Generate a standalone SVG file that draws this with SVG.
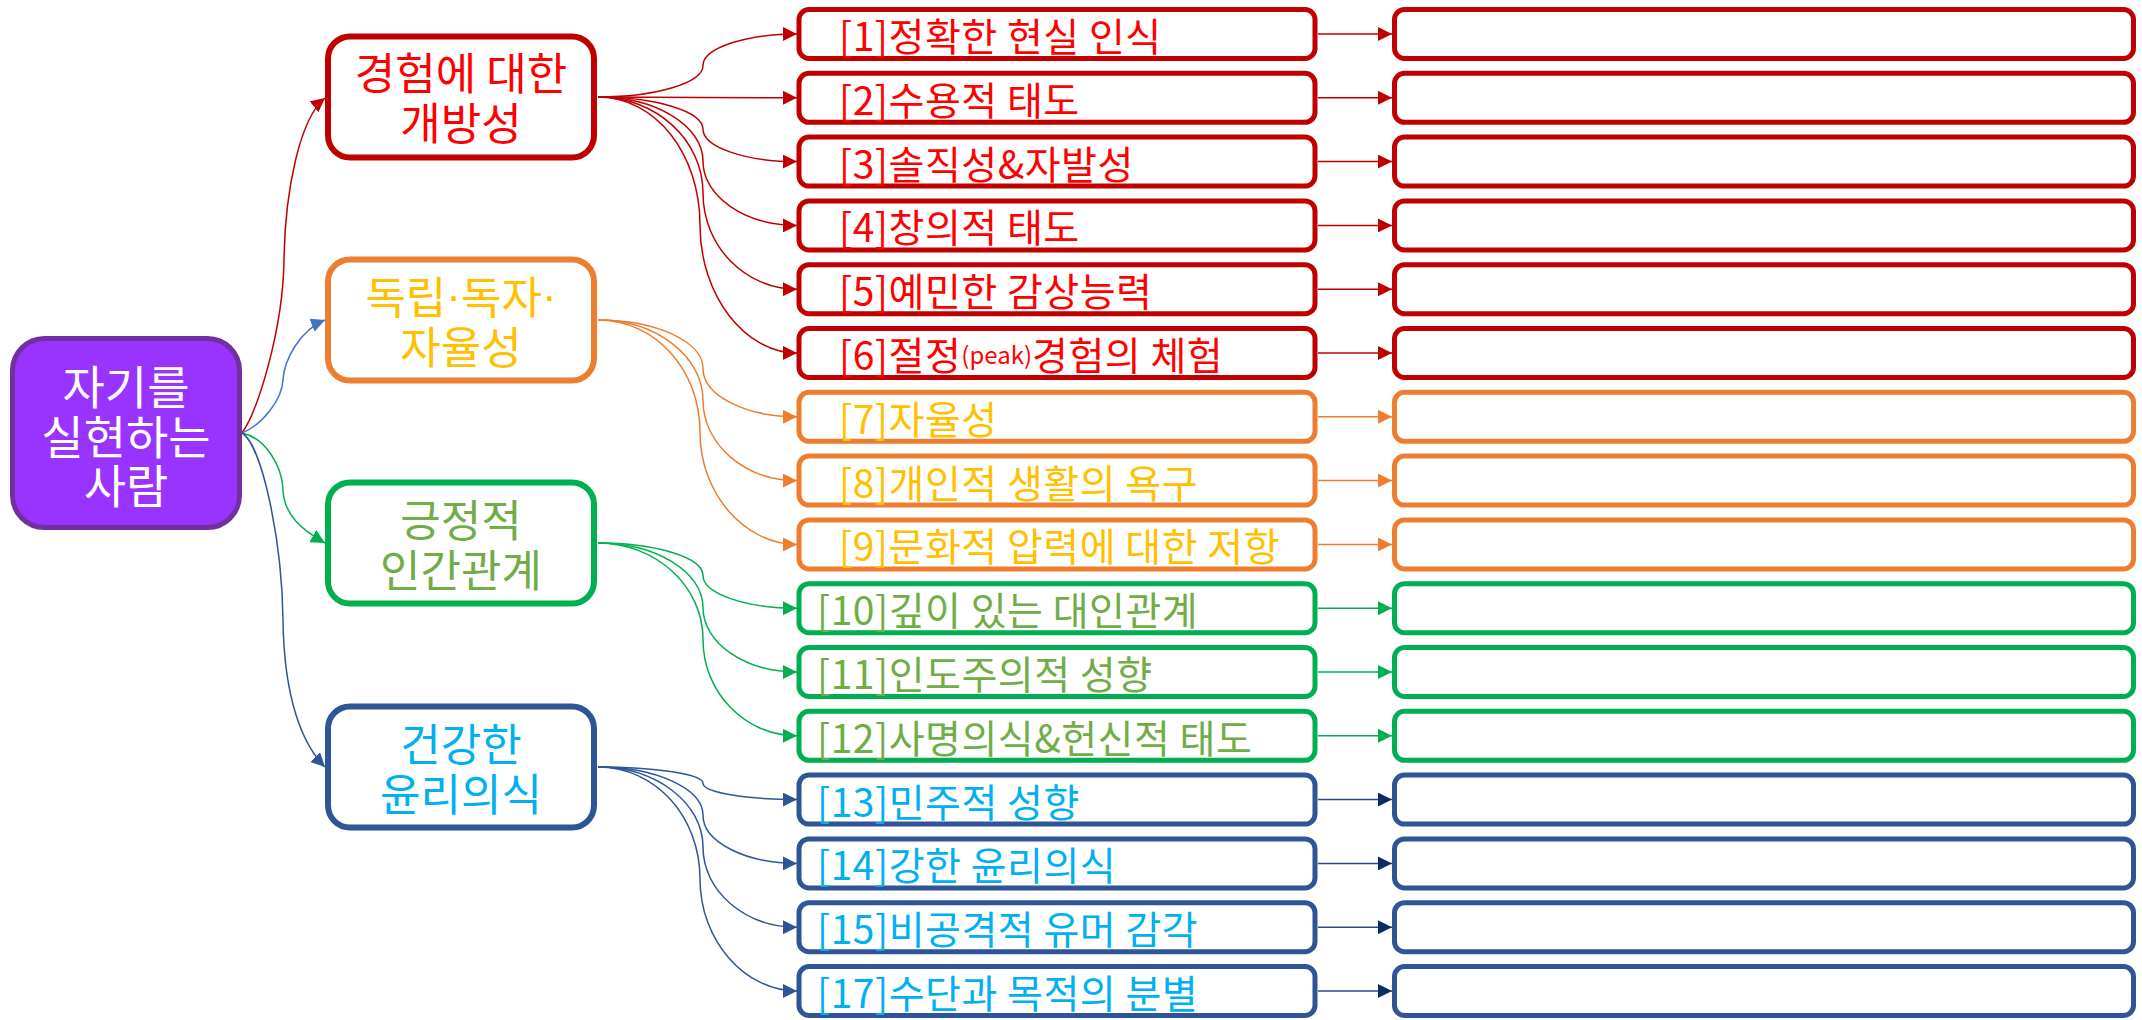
<svg xmlns="http://www.w3.org/2000/svg" width="2142" height="1020" viewBox="0 0 2142 1020">
<defs>
<style>
text { font-family: "Noto Sans CJK KR", "Noto Sans", sans-serif; }
.root rect { fill:#9933FF; stroke:#7030A0; stroke-width:5; }
.root text { fill:#FFFFFF; font-size:46px; text-anchor:middle; dominant-baseline:central; }
.l1 rect { fill:#FFFFFF; stroke-width:6; }
.l1 text { font-size:44px; text-anchor:middle; dominant-baseline:central; }
.dot { font-family: "Liberation Sans", sans-serif; }
.l2 rect, .l3 rect { fill:#FFFFFF; stroke-width:5; }
.l2 text { font-size:39px; letter-spacing:0.5px; dominant-baseline:central; }
.sm { font-size:24px; letter-spacing:0; }
.red rect { stroke:#C00000; } .red text { fill:#FF0000; }
.org rect { stroke:#ED7D31; } .org text { fill:#FFC000; }
.grn rect { stroke:#00B050; } .grn text { fill:#70AD47; }
.blu rect { stroke:#2F5597; } .blu text { fill:#00B0F0; }
.c { fill:none; stroke-width:1.5; }
.cr { stroke:#C00000; marker-end:url(#mR); }
.co { stroke:#ED7D31; marker-end:url(#mO); }
.cg { stroke:#00B050; marker-end:url(#mG); }
.cb { stroke:#2F5597; marker-end:url(#mB); }
.cl { stroke:#4472C4; marker-end:url(#mL); }
.cn { stroke:#2F4A86; marker-end:url(#mN); }
</style>
<marker id="mR" markerUnits="userSpaceOnUse" markerWidth="14" markerHeight="14" refX="14" refY="7" orient="auto"><path d="M0,0 L14,7 L0,14 z" fill="#C00000"/></marker>
<marker id="mO" markerUnits="userSpaceOnUse" markerWidth="14" markerHeight="14" refX="14" refY="7" orient="auto"><path d="M0,0 L14,7 L0,14 z" fill="#ED7D31"/></marker>
<marker id="mG" markerUnits="userSpaceOnUse" markerWidth="14" markerHeight="14" refX="14" refY="7" orient="auto"><path d="M0,0 L14,7 L0,14 z" fill="#00B050"/></marker>
<marker id="mB" markerUnits="userSpaceOnUse" markerWidth="14" markerHeight="14" refX="14" refY="7" orient="auto"><path d="M0,0 L14,7 L0,14 z" fill="#2F5597"/></marker>
<marker id="mL" markerUnits="userSpaceOnUse" markerWidth="14" markerHeight="14" refX="14" refY="7" orient="auto"><path d="M0,0 L14,7 L0,14 z" fill="#4472C4"/></marker>
<marker id="mN" markerUnits="userSpaceOnUse" markerWidth="14" markerHeight="14" refX="14" refY="7" orient="auto"><path d="M0,0 L14,7 L0,14 z" fill="#0E2A66"/></marker>
</defs>
<rect x="0" y="0" width="2142" height="1020" fill="#FFFFFF"/>

<g id="connectors">
  <!-- root to level 1 -->
  <path class="c cr" d="M242,433 C258,410 283,330 284,260 C285,190 300,118 325,98"/>
  <path class="c cl" d="M242,433 C262,425 282,400 283,380 C284,360 300,330 325,320"/>
  <path class="c cg" d="M242,433 C265,438 282,465 283,490 C284,515 302,530 325,543"/>
  <path class="c cb" d="M242,433 C262,445 282,540 283,620 C284,700 303,745 325,767"/>
  <!-- level 1 to level 2 -->
  <path class="c cr" d="M598,97 C656,97 703,82.9 703,65.5 C703,48.1 745,34 797,34"/>
  <path class="c cr" d="M598,97 C700,97 700,97.8 797,97.8"/>
  <path class="c cr" d="M598,97 C656,97 703,111.5 703,129.3 C703,147.1 745,161.6 797,161.6"/>
  <path class="c cr" d="M598,97 C656,97 703,125.8 703,161.2 C703,196.6 745,225.4 797,225.4"/>
  <path class="c cr" d="M598,97 C656,97 703,140.1 703,193.1 C703,246.1 745,289.2 797,289.2"/>
  <path class="c cr" d="M598,97 C656,97 700,154.3 700,225 C700,295.7 745,353 797,353"/>
  <path class="c co" d="M598,320 C656,320 703,341.7 703,368.4 C703,395.1 745,416.8 797,416.8"/>
  <path class="c co" d="M598,320 C656,320 703,356 703,400.3 C703,444.6 745,480.6 797,480.6"/>
  <path class="c co" d="M598,320 C656,320 700,370.3 700,432.2 C700,494.1 745,544.4 797,544.4"/>
  <path class="c cg" d="M598,543 C656,543 703,557.6 703,575.6 C703,593.6 745,608.2 797,608.2"/>
  <path class="c cg" d="M598,543 C656,543 703,571.9 703,607.5 C703,643.1 745,672 797,672"/>
  <path class="c cg" d="M598,543 C656,543 703,586.2 703,639.4 C703,692.6 745,735.8 797,735.8"/>
  <path class="c cb" d="M598,767 C656,767 703,774.3 703,783.3 C703,792.3 745,799.6 797,799.6"/>
  <path class="c cb" d="M598,767 C656,767 703,788.6 703,815.2 C703,841.8 745,863.4 797,863.4"/>
  <path class="c cb" d="M598,767 C656,767 703,802.9 703,847.1 C703,891.3 745,927.2 797,927.2"/>
  <path class="c cb" d="M598,767 C656,767 700,817.2 700,879 C700,940.8 745,991 797,991"/>
  <!-- level 2 to level 3 -->
  <path class="c cr" d="M1318,34 L1392,34"/>
  <path class="c cr" d="M1318,97.8 L1392,97.8"/>
  <path class="c cr" d="M1318,161.6 L1392,161.6"/>
  <path class="c cr" d="M1318,225.4 L1392,225.4"/>
  <path class="c cr" d="M1318,289.2 L1392,289.2"/>
  <path class="c cr" d="M1318,353 L1392,353"/>
  <path class="c co" d="M1318,416.8 L1392,416.8"/>
  <path class="c co" d="M1318,480.6 L1392,480.6"/>
  <path class="c co" d="M1318,544.4 L1392,544.4"/>
  <path class="c cg" d="M1318,608.2 L1392,608.2"/>
  <path class="c cg" d="M1318,672 L1392,672"/>
  <path class="c cg" d="M1318,735.8 L1392,735.8"/>
  <path class="c cn" d="M1318,799.6 L1392,799.6"/>
  <path class="c cn" d="M1318,863.4 L1392,863.4"/>
  <path class="c cn" d="M1318,927.2 L1392,927.2"/>
  <path class="c cn" d="M1318,991 L1392,991"/>
</g>

<g id="root" class="root">
  <rect x="12.5" y="338.5" width="227" height="189" rx="32"/>
  <text x="126" y="384">자기를</text>
  <text x="126" y="434">실현하는</text>
  <text x="126" y="483">사람</text>
</g>

<g id="n-openness" class="l1 red">
  <rect x="328" y="36.5" width="266" height="121" rx="22"/>
  <text x="461" y="71">경험에 대한</text>
  <text x="461" y="121">개방성</text>
</g>
<g id="n-autonomy" class="l1 org">
  <rect x="328" y="259.5" width="266" height="121" rx="22"/>
  <text x="461" y="295">독립<tspan class="dot">·</tspan>독자<tspan class="dot">·</tspan></text>
  <text x="461" y="345">자율성</text>
</g>
<g id="n-relations" class="l1 grn">
  <rect x="328" y="482.5" width="266" height="121" rx="22"/>
  <text x="461" y="518">긍정적</text>
  <text x="461" y="568">인간관계</text>
</g>
<g id="n-ethics" class="l1 blu">
  <rect x="328" y="706.5" width="266" height="121" rx="22"/>
  <text x="461" y="742">건강한</text>
  <text x="461" y="792">윤리의식</text>
</g>

<g id="i1" class="l2 red"><rect x="799" y="9.5" width="516" height="49" rx="10"/><text x="839" y="34">[1]정확한 현실 인식</text></g>
<g id="i2" class="l2 red"><rect x="799" y="73.3" width="516" height="49" rx="10"/><text x="839" y="97.8">[2]수용적 태도</text></g>
<g id="i3" class="l2 red"><rect x="799" y="137.1" width="516" height="49" rx="10"/><text x="839" y="161.6">[3]솔직성&amp;자발성</text></g>
<g id="i4" class="l2 red"><rect x="799" y="200.9" width="516" height="49" rx="10"/><text x="839" y="225.4">[4]창의적 태도</text></g>
<g id="i5" class="l2 red"><rect x="799" y="264.7" width="516" height="49" rx="10"/><text x="839" y="289.2">[5]예민한 감상능력</text></g>
<g id="i6" class="l2 red"><rect x="799" y="328.5" width="516" height="49" rx="10"/><text x="839" y="353">[6]절정<tspan class="sm">(peak)</tspan>경험의 체험</text></g>
<g id="i7" class="l2 org"><rect x="799" y="392.3" width="516" height="49" rx="10"/><text x="839" y="416.8">[7]자율성</text></g>
<g id="i8" class="l2 org"><rect x="799" y="456.1" width="516" height="49" rx="10"/><text x="839" y="480.6">[8]개인적 생활의 욕구</text></g>
<g id="i9" class="l2 org"><rect x="799" y="519.9" width="516" height="49" rx="10"/><text x="839" y="544.4">[9]문화적 압력에 대한 저항</text></g>
<g id="i10" class="l2 grn"><rect x="799" y="583.7" width="516" height="49" rx="10"/><text x="817" y="608.2">[10]깊이 있는 대인관계</text></g>
<g id="i11" class="l2 grn"><rect x="799" y="647.5" width="516" height="49" rx="10"/><text x="817" y="672">[11]인도주의적 성향</text></g>
<g id="i12" class="l2 grn"><rect x="799" y="711.3" width="516" height="49" rx="10"/><text x="817" y="735.8">[12]사명의식&amp;헌신적 태도</text></g>
<g id="i13" class="l2 blu"><rect x="799" y="775.1" width="516" height="49" rx="10"/><text x="817" y="799.6">[13]민주적 성향</text></g>
<g id="i14" class="l2 blu"><rect x="799" y="838.9" width="516" height="49" rx="10"/><text x="817" y="863.4">[14]강한 윤리의식</text></g>
<g id="i15" class="l2 blu"><rect x="799" y="902.7" width="516" height="49" rx="10"/><text x="817" y="927.2">[15]비공격적 유머 감각</text></g>
<g id="i17" class="l2 blu"><rect x="799" y="966.5" width="516" height="49" rx="10"/><text x="817" y="991">[17]수단과 목적의 분별</text></g>

<g id="a1" class="l3 red"><rect x="1394.5" y="9.5" width="739" height="49" rx="10"/></g>
<g id="a2" class="l3 red"><rect x="1394.5" y="73.3" width="739" height="49" rx="10"/></g>
<g id="a3" class="l3 red"><rect x="1394.5" y="137.1" width="739" height="49" rx="10"/></g>
<g id="a4" class="l3 red"><rect x="1394.5" y="200.9" width="739" height="49" rx="10"/></g>
<g id="a5" class="l3 red"><rect x="1394.5" y="264.7" width="739" height="49" rx="10"/></g>
<g id="a6" class="l3 red"><rect x="1394.5" y="328.5" width="739" height="49" rx="10"/></g>
<g id="a7" class="l3 org"><rect x="1394.5" y="392.3" width="739" height="49" rx="10"/></g>
<g id="a8" class="l3 org"><rect x="1394.5" y="456.1" width="739" height="49" rx="10"/></g>
<g id="a9" class="l3 org"><rect x="1394.5" y="519.9" width="739" height="49" rx="10"/></g>
<g id="a10" class="l3 grn"><rect x="1394.5" y="583.7" width="739" height="49" rx="10"/></g>
<g id="a11" class="l3 grn"><rect x="1394.5" y="647.5" width="739" height="49" rx="10"/></g>
<g id="a12" class="l3 grn"><rect x="1394.5" y="711.3" width="739" height="49" rx="10"/></g>
<g id="a13" class="l3 blu"><rect x="1394.5" y="775.1" width="739" height="49" rx="10"/></g>
<g id="a14" class="l3 blu"><rect x="1394.5" y="838.9" width="739" height="49" rx="10"/></g>
<g id="a15" class="l3 blu"><rect x="1394.5" y="902.7" width="739" height="49" rx="10"/></g>
<g id="a17" class="l3 blu"><rect x="1394.5" y="966.5" width="739" height="49" rx="10"/></g>
</svg>
